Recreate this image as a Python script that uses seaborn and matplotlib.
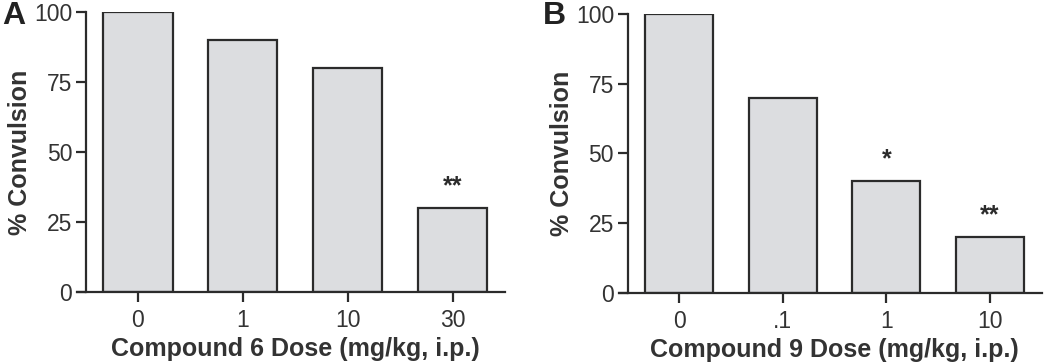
import numpy as np
import pandas as pd
import seaborn as sns
import matplotlib.pyplot as plt

# data
doses_6 = ["0", "1", "10", "30"]
conv_6 = [100, 90, 80, 30]
marks_6 = ["", "", "", "**"]

doses_9 = ["0", ".1", "1", "10"]
conv_9 = [100, 70, 40, 20]
marks_9 = ["", "", "*", "**"]

sns.set_theme(style="ticks")
plt.rcParams['font.family'] = ['Liberation Sans', 'DejaVu Sans']

ink = "#2b2b2b"
fill = "#dcdde0"

fig = plt.figure(figsize=(10.5, 3.64), dpi=100)
ax_a = fig.add_axes([0.0819, 0.198, 0.399, 0.769])
ax_b = fig.add_axes([0.598, 0.195, 0.394, 0.767])


def panel(ax, doses, conv, marks, xlabel):
    df = pd.DataFrame({"dose": doses, "conv": conv})
    sns.barplot(data=df, x="dose", y="conv", order=doses, color=fill,
                edgecolor=ink, linewidth=1.6, width=0.66, saturation=1, ax=ax)
    ax.set_xlim(-0.495, 3.5)
    ax.set_ylim(0, 100)
    ax.set_yticks([0, 25, 50, 75, 100])
    for s in ["top", "right"]:
        ax.spines[s].set_visible(False)
    for s in ["left", "bottom"]:
        ax.spines[s].set_color(ink)
        ax.spines[s].set_linewidth(1.6)
    ax.spines["bottom"].set_bounds(-0.58, 3.5)
    ax.tick_params(axis="both", colors=ink, width=1.6, length=7,
                   labelsize=16.5, labelcolor="#333333", pad=3)
    ax.tick_params(axis="x", pad=5)
    ax.set_xlabel(xlabel, fontsize=18, fontweight="bold", color="#333333", labelpad=4)
    ax.set_ylabel("% Convulsion", fontsize=18, fontweight="bold", color="#333333", labelpad=1)
    for i, (v, m) in enumerate(zip(conv, marks)):
        if m:
            ax.text(i, v + 3.5, m, ha="center", va="bottom", fontsize=18,
                    fontweight="bold", color=ink)


panel(ax_a, doses_6, conv_6, marks_6, "Compound 6 Dose (mg/kg, i.p.)")
panel(ax_b, doses_9, conv_9, marks_9, "Compound 9 Dose (mg/kg, i.p.)")

fig.text(0.002, 1 - 16 / 364, "A", fontsize=23, fontweight="bold",
         color="#222222", ha="left", va="center")
fig.text(543 / 1050, 1 - 16 / 364, "B", fontsize=23, fontweight="bold",
         color="#222222", ha="left", va="center")

fig.savefig("out.png", dpi=100)
